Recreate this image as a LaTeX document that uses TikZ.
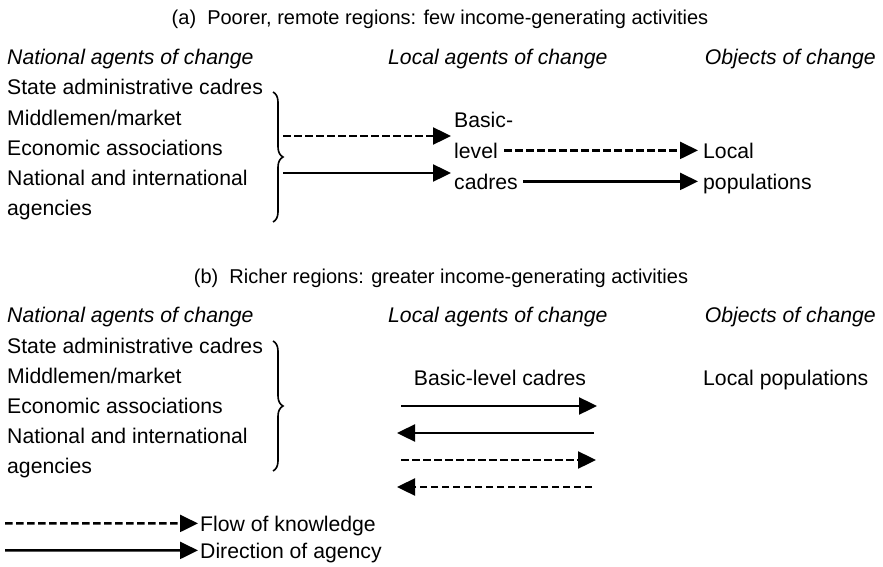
\documentclass[tikz,border=0pt]{standalone}
\usepackage{fontspec}
\setmainfont{Liberation Sans}
\usetikzlibrary{arrows.meta,decorations.pathreplacing}
\begin{document}
\begin{tikzpicture}[x=1pt,y=-1pt,
  txt/.style={inner sep=0pt,text height=15.2pt,text depth=0pt,font=\fontsize{21.2}{24}\selectfont},
  hdr/.style={txt,font=\fontsize{21.2}{24}\selectfont\itshape},
  ttl/.style={txt,font=\fontsize{20}{24}\selectfont},
  agency/.style={line width=2.4pt,-{Triangle[length=18pt,width=17pt]}},
  knowledge/.style={line width=2.4pt,dash pattern=on 7.5pt off 3.5pt,-{Triangle[length=18pt,width=17pt]}},
  bracestyle/.style={line width=1.6pt,decorate,decoration={brace,amplitude=10pt}}]
\useasboundingbox (0,0) rectangle (883,567);
% ---------- (a) ----------
\node[ttl,anchor=base] (ta) at (440,25) {(a)\ \ Poorer, remote regions: few income-generating activities};
\node[hdr,anchor=base west] (na) at (7,65) {National agents of change};
\node[hdr,anchor=base west] (la) at (388,65) {Local agents of change};
\node[hdr,anchor=base east] (oa) at (876,65) {Objects of change};
\node[txt,anchor=base west] (a1) at (7,95) {State administrative cadres};
\node[txt,anchor=base west] (a2) at (7,125) {Middlemen/market};
\node[txt,anchor=base west] (a3) at (7,155) {Economic associations};
\node[txt,anchor=base west] (a4) at (7,185) {National and international};
\node[txt,anchor=base west] (a5) at (7,215) {agencies};
\draw[bracestyle] (273,92) -- (273,222);
\coordinate (ba1) at (283,136);
\coordinate (ba2) at (283,173);
\node[txt,anchor=base west] (bc1) at (454,128) {Basic-};
\node[txt,anchor=base west] (bc2) at (454,158) {level};
\node[txt,anchor=base west] (bc3) at (454,189) {cadres};
\coordinate (ea1) at (451,136);
\coordinate (ea2) at (451,173);
\draw[knowledge] (ba1) -- (ea1);
\draw[agency] (ba2) -- (ea2);
\node[txt,anchor=base west] (lp1) at (703,158) {Local};
\node[txt,anchor=base west] (lp2) at (703,189) {populations};
\draw[knowledge] ([xshift=6pt]bc2.east) -- ([xshift=-5pt]lp1.west);
\draw[agency] ([xshift=5pt]bc3.east) -- ([xshift=-5pt]lp2.west);
% ---------- (b) ----------
\node[ttl,anchor=base] (tb) at (441,283) {(b)\ \ Richer regions: greater income-generating activities};
\node[hdr,anchor=base west] (nb) at (7,322) {National agents of change};
\node[hdr,anchor=base west] (lb) at (388,322) {Local agents of change};
\node[hdr,anchor=base east] (ob) at (876,322) {Objects of change};
\node[txt,anchor=base west] (b1) at (7,353) {State administrative cadres};
\node[txt,anchor=base west] (b2) at (7,383) {Middlemen/market};
\node[txt,anchor=base west] (b3) at (7,413) {Economic associations};
\node[txt,anchor=base west] (b4) at (7,443) {National and international};
\node[txt,anchor=base west] (b5) at (7,473) {agencies};
\draw[bracestyle] (273,341) -- (273,471);
\node[txt,anchor=base] (bcb) at (500,385) {Basic-level cadres};
\node[txt,anchor=base west] (lpb) at (703,385) {Local populations};
\coordinate (r1a) at (401,406); \coordinate (r1b) at (597,406);
\coordinate (r2a) at (594,433); \coordinate (r2b) at (397,433);
\coordinate (r3a) at (401,460); \coordinate (r3b) at (596,460);
\coordinate (r4a) at (592,487); \coordinate (r4b) at (397,487);
\draw[agency] (r1a) -- (r1b);
\draw[agency] (r2a) -- (r2b);
\draw[knowledge] (r3a) -- (r3b);
\draw[knowledge] (r4a) -- (r4b);
% ---------- legend ----------
\node[txt,anchor=base west] (lk) at (200,531) {Flow of knowledge};
\node[txt,anchor=base west] (lg) at (200,558) {Direction of agency};
\coordinate (lks) at (5,523.4);
\coordinate (lgs) at (5,550.4);
\draw[knowledge] (lks) -- ([xshift=-2pt]lk.west);
\draw[agency] (lgs) -- ([xshift=-2pt]lg.west);
\end{tikzpicture}
\end{document}
